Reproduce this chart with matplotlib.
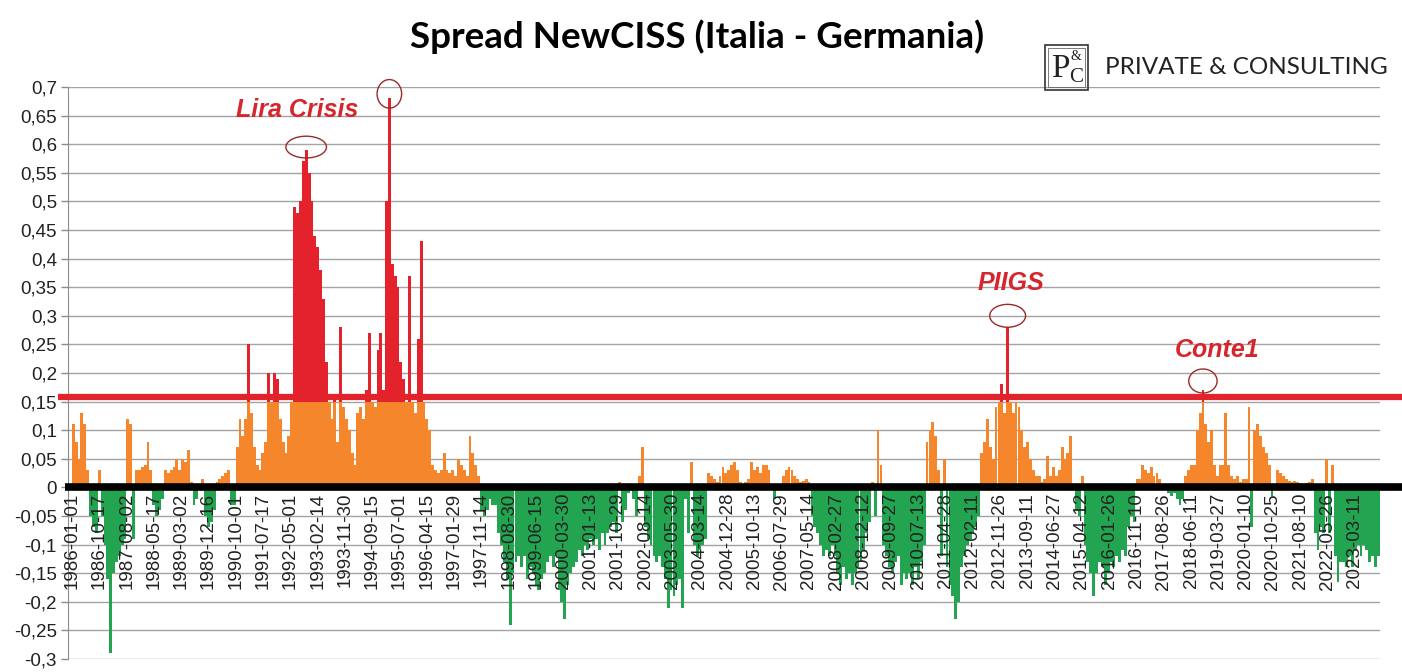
import numpy as np
import pandas as pd
import matplotlib
matplotlib.use('Agg')
import matplotlib.pyplot as plt
from matplotlib.patches import Ellipse, Rectangle

# monthly spread values (Italy - Germany NewCISS), Jan 1986 .. Nov 2023
spread = [
    0.11, 0.08, 0.05, 0.13, 0.11, 0.03, -0.05, -0.07, -0.08, 0.03, -0.05, -0.10,      # 1986
    -0.16, -0.29, -0.15, -0.13, -0.12, -0.10, -0.09, 0.12, 0.11, -0.09, 0.03, 0.03,   # 1987
    0.035, 0.04, 0.08, 0.03, -0.03, -0.05, -0.04, -0.02, 0.03, 0.025, 0.03, 0.035,    # 1988
    0.05, 0.03, 0.05, 0.045, 0.065, 0.01, -0.03, -0.02, 0.005, 0.015, -0.05, -0.07,   # 1989
    -0.06, -0.04, 0.01, 0.015, 0.02, 0.025, 0.03, -0.03, -0.03, 0.07, 0.12, 0.09,     # 1990
    0.12, 0.25, 0.13, 0.07, 0.04, 0.03, 0.06, 0.08, 0.20, 0.15, 0.20, 0.19,           # 1991
    0.12, 0.08, 0.06, 0.09, 0.15, 0.49, 0.48, 0.50, 0.57, 0.59, 0.55, 0.50,           # 1992
    0.44, 0.42, 0.38, 0.33, 0.22, 0.15, 0.12, 0.16, 0.08, 0.28, 0.14, 0.12,           # 1993
    0.10, 0.06, 0.04, 0.13, 0.14, 0.12, 0.17, 0.27, 0.15, 0.14, 0.24, 0.27,           # 1994
    0.17, 0.50, 0.68, 0.39, 0.37, 0.35, 0.22, 0.19, 0.15, 0.37, 0.15, 0.13,           # 1995
    0.26, 0.43, 0.15, 0.12, 0.10, 0.04, 0.03, 0.025, 0.03, 0.06, 0.03, 0.025,         # 1996
    0.03, 0.02, 0.05, 0.04, 0.03, 0.02, 0.09, 0.06, 0.04, 0.02, -0.04, -0.05,         # 1997
    -0.04, -0.02, -0.03, -0.03, -0.08, -0.10, -0.13, -0.16, -0.24, -0.15, -0.13, -0.12,  # 1998
    -0.14, -0.12, -0.16, -0.14, -0.15, -0.17, -0.18, -0.16, -0.15, -0.13, -0.12, -0.14,  # 1999
    -0.12, -0.18, -0.20, -0.23, -0.17, -0.15, -0.14, -0.13, -0.11, -0.12, -0.10, -0.11,  # 2000
    -0.09, -0.10, -0.09, -0.11, -0.08, -0.10, -0.08, -0.07, -0.06, -0.08, 0.01, -0.06,   # 2001
    -0.04, -0.01, 0.005, -0.02, -0.05, 0.02, 0.07, -0.07, -0.09, -0.10, -0.12, -0.13,    # 2002
    -0.12, -0.14, -0.16, -0.21, -0.18, -0.19, -0.17, -0.16, -0.21, -0.02, -0.08, 0.045,  # 2003
    -0.10, -0.12, -0.11, -0.10, -0.09, 0.025, 0.02, 0.015, 0.01, 0.02, 0.035, 0.025,     # 2004
    0.03, 0.04, 0.045, 0.03, 0.01, 0.005, 0.01, 0.015, 0.045, 0.03, 0.035, 0.025,        # 2005
    0.04, 0.04, 0.03, 0.005, -0.02, 0.003, 0.005, 0.02, 0.03, 0.035, 0.03, 0.02,         # 2006
    0.015, 0.01, 0.012, 0.015, 0.01, -0.05, -0.07, -0.08, -0.10, -0.12, -0.11, -0.12,    # 2007
    -0.10, -0.12, -0.15, -0.17, -0.14, -0.16, -0.15, -0.17, -0.15, -0.14, -0.13, -0.11,  # 2008
    -0.08, -0.06, 0.01, -0.05, 0.10, 0.04, -0.10, -0.12, -0.14, -0.15, -0.13, -0.12,     # 2009
    -0.17, -0.15, -0.16, -0.15, -0.17, -0.14, -0.16, -0.13, -0.10, 0.08, 0.10, 0.115,    # 2010
    0.09, 0.03, -0.12, 0.05, -0.14, -0.17, -0.19, -0.23, -0.20, -0.14, -0.12, -0.10,     # 2011
    -0.09, -0.08, -0.07, -0.05, 0.06, 0.08, 0.12, 0.07, 0.05, 0.14, 0.15, 0.18,          # 2012
    0.13, 0.28, 0.15, 0.13, 0.15, 0.14, 0.10, 0.07, 0.08, 0.05, 0.03, 0.02,              # 2013
    0.02, 0.01, 0.015, 0.055, 0.02, 0.035, 0.02, 0.03, 0.07, 0.05, 0.06, 0.09,           # 2014
    0.005, -0.04, -0.05, 0.02, -0.10, -0.13, -0.15, -0.19, -0.15, -0.13, -0.14, -0.17,   # 2015
    -0.15, -0.13, -0.14, -0.12, -0.13, -0.11, -0.12, -0.07, -0.05, -0.06, 0.015, 0.015,  # 2016
    0.04, 0.03, 0.025, 0.035, 0.02, 0.025, 0.015, 0.005, 0.003, -0.01, -0.015, -0.01,    # 2017
    -0.02, -0.03, -0.02, 0.02, 0.03, 0.04, 0.04, 0.10, 0.13, 0.17, 0.11, 0.08,           # 2018
    0.10, 0.04, 0.02, 0.04, 0.04, 0.13, 0.04, 0.02, 0.015, 0.02, 0.01, 0.015,            # 2019
    0.015, 0.14, -0.07, 0.10, 0.11, 0.09, 0.07, 0.06, 0.04, -0.015, 0.005, 0.03,         # 2020
    0.025, 0.02, 0.015, 0.012, 0.01, 0.012, 0.01, 0.008, 0.005, 0.008, 0.01, 0.015,      # 2021
    -0.08, -0.11, -0.07, -0.08, 0.05, -0.08, 0.04, -0.12, -0.165, -0.13, -0.13, -0.14,   # 2022
    -0.12, -0.14, -0.11, -0.10, -0.12, -0.10, -0.11, -0.13, -0.12, -0.14, -0.12,         # 2023
]

tick_labels = [
    '1986-01-01', '1986-10-17', '1987-08-02', '1988-05-17', '1989-03-02', '1989-12-16',
    '1990-10-01', '1991-07-17', '1992-05-01', '1993-02-14', '1993-11-30', '1994-09-15',
    '1995-07-01', '1996-04-15', '1997-01-29', '1997-11-14', '1998-08-30', '1999-06-15',
    '2000-03-30', '2001-01-13', '2001-10-29', '2002-08-14', '2003-05-30', '2004-03-14',
    '2004-12-28', '2005-10-13', '2006-07-29', '2007-05-14', '2008-02-27', '2008-12-12',
    '2009-09-27', '2010-07-13', '2011-04-28', '2012-02-11', '2012-11-26', '2013-09-11',
    '2014-06-27', '2015-04-12', '2016-01-26', '2016-11-10', '2017-08-26', '2018-06-11',
    '2019-03-27', '2020-01-10', '2020-10-25', '2021-08-10', '2022-05-26', '2023-03-11',
]

y_ticks = [-0.3, -0.25, -0.2, -0.15, -0.1, -0.05, 0, 0.05, 0.1, 0.15, 0.2, 0.25,
           0.3, 0.35, 0.4, 0.45, 0.5, 0.55, 0.6, 0.65, 0.7]
y_labels = ['-0,3', '-0,25', '-0,2', '-0,15', '-0,1', '-0,05', '0', '0,05', '0,1', '0,15',
            '0,2', '0,25', '0,3', '0,35', '0,4', '0,45', '0,5', '0,55', '0,6', '0,65', '0,7']

# annotated events: label, month of the peak
events = ['Lira Crisis', None, 'PIIGS', 'Conte1']
event_months = ['1992-10', '1995-03', '2013-02', '2018-10']

THRESH = 0.15
ORANGE = '#F5862C'
RED = '#E3222B'
GREEN = '#23A450'

W, H = 1402, 672
fig = plt.figure(figsize=(W / 100, H / 100), dpi=100)
ax = fig.add_axes([68 / W, 13 / H, 1312 / W, 572 / H])

def px(x, y):
    return x / W, 1 - y / H

dates = pd.date_range('1986-01-01', periods=len(spread), freq='MS') + pd.Timedelta(days=14)
vals = np.array(spread)

ax.bar(dates, np.clip(vals, 0, THRESH), width=30, color=ORANGE, linewidth=0, zorder=2)
ax.bar(dates, np.clip(vals - THRESH, 0, None), bottom=THRESH, width=30, color=RED,
       linewidth=0, zorder=2)
ax.bar(dates, np.clip(vals, None, 0), width=30, color=GREEN, linewidth=0, zorder=2)

# threshold and zero lines
ax.axhline(0.158, xmin=-0.0076, xmax=1.0168, color=RED, lw=4.5, clip_on=False,
           zorder=4, solid_capstyle='butt')
ax.axhline(0, xmin=-0.002, xmax=1.0168, color='black', lw=5.5, clip_on=False,
           zorder=4, solid_capstyle='butt')

ax.set_ylim(-0.3, 0.7)
ax.set_xlim(pd.Timestamp('1985-11-19'), pd.Timestamp('2023-12-03'))

for s in ['top', 'right']:
    ax.spines[s].set_visible(False)
ax.spines['bottom'].set_position(('data', 0))
ax.spines['bottom'].set_visible(False)
ax.spines['left'].set_color('#8c8c8c')

ax.set_yticks(y_ticks)
ax.set_yticklabels(y_labels, fontsize=13.5, family='Liberation Sans', color='#222222')
ax.set_xticks(pd.to_datetime(tick_labels))
ax.set_xticklabels(tick_labels, rotation=90, fontsize=13.5, family='Liberation Sans',
                   color='#222222')

ax.set_axisbelow(True)
ax.yaxis.grid(True, color='#a3a3a3', lw=1)
ax.xaxis.set_zorder(3)
ax.tick_params(axis='y', length=5, width=1, color='#8c8c8c', pad=3)
ax.tick_params(axis='x', length=0, pad=4)

# circles around the peaks
ell_w = [430, 260, 380, 300]
ell_h = [0.038, 0.05, 0.04, 0.042]
ell_y = [0.595, 0.688, 0.30, 0.186]
for m, w, h, y in zip(event_months, ell_w, ell_h, ell_y):
    c = pd.Timestamp(m + '-15')
    ax.add_patch(Ellipse((matplotlib.dates.date2num(c), y), w, h, fill=False,
                         edgecolor='#9a2a2a', lw=1, zorder=5, clip_on=False))

text_pos = [(297, 110), None, (1011, 283), (1217, 350)]
for lab, p in zip(events, text_pos):
    if lab is None:
        continue
    fig.text(*px(*p), lab, ha='center', va='center', fontsize=18, fontweight='bold',
             fontstyle='italic', color='#D6262D', family='Liberation Sans')

# title
fig.text(*px(697, 37), 'Spread NewCISS (Italia - Germania)', ha='center', va='center',
         fontsize=26.5, fontweight='bold', family='Lato')

# logo
fig.add_artist(Rectangle(px(1045, 90), 43 / W, 45 / H, fill=False, lw=1.2,
                         edgecolor='#333333', transform=fig.transFigure))
fig.add_artist(Rectangle(px(1048, 87), 37 / W, 39 / H, fill=False, lw=0.6,
                         edgecolor='#666666', transform=fig.transFigure))
fig.text(*px(1060, 69), 'P', ha='center', va='center', fontsize=24,
         family='Liberation Serif', color='#222222')
fig.text(*px(1076, 56), '&', ha='center', va='center', fontsize=10,
         family='Liberation Serif', color='#222222')
fig.text(*px(1076, 77), 'C', ha='center', va='center', fontsize=15,
         family='Liberation Serif', color='#222222')
fig.text(*px(1105, 68), 'PRIVATE & CONSULTING', ha='left', va='center', fontsize=17.5,
         family='Lato', color='#222222')

fig.savefig('out.png', dpi=100)
